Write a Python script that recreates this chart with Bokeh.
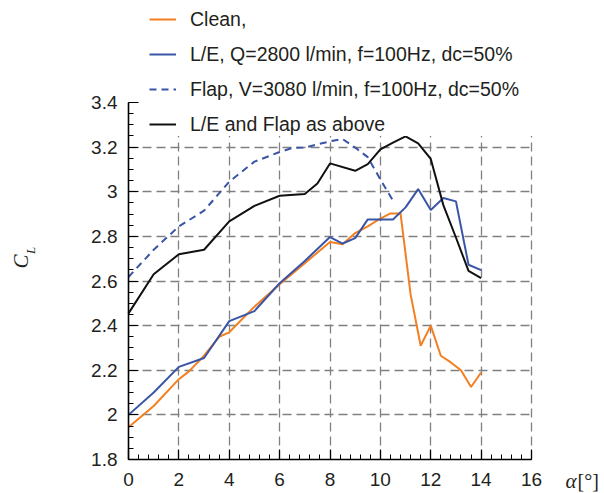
import math

from bokeh.embed import file_html
from bokeh.models import (FixedTicker, Grid, Label, Legend, LegendItem, LinearAxis,
                          Range1d)
from bokeh.plotting import figure
from bokeh.resources import INLINE

# Lift coefficient versus angle of attack for four configurations
alpha_clean = [0, 1, 2, 2.4, 3, 3.6, 4, 5, 6, 7, 8, 8.5, 9, 9.5, 10, 10.4, 10.8,
               11.2, 11.6, 12, 12.4, 12.8, 13.2, 13.6, 14]
cl_clean = [1.945, 2.04, 2.16, 2.195, 2.265, 2.35, 2.37, 2.485, 2.585, 2.68, 2.775,
            2.765, 2.815, 2.845, 2.88, 2.903, 2.903, 2.54, 2.31, 2.40, 2.265, 2.235,
            2.20, 2.125, 2.19]

alpha_le = [0, 1, 2, 3, 4, 5, 6, 7, 8, 8.5, 9, 9.5, 10, 10.5, 11, 11.5, 12, 12.5,
            13, 13.5, 14]
cl_le = [2.0, 2.10, 2.215, 2.255, 2.42, 2.465, 2.59, 2.69, 2.797, 2.768, 2.792,
         2.876, 2.876, 2.876, 2.93, 3.012, 2.918, 2.972, 2.957, 2.673, 2.649]

alpha_flap = [0, 1, 2, 3, 4, 5, 6, 6.5, 7, 8, 8.5, 9, 9.5, 10, 10.5]
cl_flap = [2.618, 2.74, 2.845, 2.915, 3.045, 3.135, 3.178, 3.196, 3.198, 3.226,
           3.236, 3.198, 3.155, 3.055, 2.96]

alpha_both = [0, 1, 2, 3, 4, 5, 6, 7, 7.5, 8, 9, 9.5, 10, 10.5, 11, 11.5, 12, 12.5,
              13, 13.5, 14]
cl_both = [2.455, 2.63, 2.72, 2.74, 2.867, 2.937, 2.982, 2.99, 3.037, 3.127, 3.094,
           3.124, 3.19, 3.22, 3.248, 3.217, 3.147, 2.94, 2.795, 2.645, 2.613]

series_labels = [
    "Clean,",
    "L/E, Q=2800 l/min, f=100Hz, dc=50%",
    "Flap, V=3080 l/min, f=100Hz, dc=50%",
    "L/E and Flap as above",
]

x_ticks = [0, 2, 4, 6, 8, 10, 12, 14, 16]
x_tick_labels = ["0", "2", "4", "6", "8", "10", "12", "14", "16"]
y_ticks = [1.8, 2.0, 2.2, 2.4, 2.6, 2.8, 3.0, 3.2, 3.4]
y_tick_labels = ["1.8", "2", "2.2", "2.4", "2.6", "2.8", "3", "3.2", "3.4"]
x_minor = [round(0.4 * i, 1) for i in range(41)]
y_minor = [round(1.8 + 0.05 * i, 2) for i in range(33)]

ORANGE = "#f47f20"
BLUE = "#3a55a6"
BLACK = "#111111"
TEXT = "#231f20"
GRID = "#808080"

W, H = 604, 493
# plot box in canvas pixels: alpha 0..16 -> x 128..531, CL 1.8..3.4 -> y 459..102
X0, X1, Y0, Y1 = 128, 531, 459, 102
kx = (X1 - X0) / (x_ticks[-1] - x_ticks[0])
ky = (Y0 - Y1) / (y_ticks[-1] - y_ticks[0])
x_range = Range1d(x_ticks[0] - X0 / kx, x_ticks[-1] + (W - X1) / kx)
y_range = Range1d(y_ticks[0] - (H - Y0) / ky, y_ticks[-1] + Y1 / ky)

p = figure(width=W, height=H, x_range=x_range, y_range=y_range,
           x_axis_type=None, y_axis_type=None, min_border=0,
           output_backend="svg", toolbar_location=None)
p.outline_line_color = None
p.background_fill_color = "white"
p.border_fill_color = "white"

# dashed grid at the interior major ticks, limited to the axes box
xgrid = Grid(dimension=0, ticker=FixedTicker(ticks=x_ticks[1:]),
             bounds=(x_ticks[0], x_ticks[-1]))
ygrid = Grid(dimension=1, ticker=FixedTicker(ticks=y_ticks[1:-1]),
             bounds=(y_ticks[0], y_ticks[-1]))
for g in (xgrid, ygrid):
    g.grid_line_color = GRID
    g.grid_line_dash = "9 5"
    g.grid_line_width = 1.3
if hasattr(xgrid, "cross_bounds"):
    xgrid.cross_bounds = (y_ticks[0], y_ticks[-1])
    ygrid.cross_bounds = (x_ticks[0], x_ticks[-1])
    p.add_layout(xgrid)
    p.add_layout(ygrid)
else:
    p.segment(x0=x_ticks[1:], y0=[y_ticks[0]] * 8, x1=x_ticks[1:],
              y1=[y_ticks[-1]] * 8, line_color=GRID, line_dash="9 5", line_width=1.3)
    p.segment(x0=[x_ticks[0]] * 7, y0=y_ticks[1:-1], x1=[x_ticks[-1]] * 7,
              y1=y_ticks[1:-1], line_color=GRID, line_dash="9 5", line_width=1.3)

# axes pinned at alpha=0 and CL=1.8, ticks pointing inward
xaxis = LinearAxis(fixed_location=y_ticks[0], bounds=(x_ticks[0], x_ticks[-1]))
yaxis = LinearAxis(fixed_location=x_ticks[0], bounds=(y_ticks[0], y_ticks[-1]))
for ax, ticks, minor, labels in (
    (xaxis, x_ticks, x_minor, x_tick_labels),
    (yaxis, y_ticks, y_minor, y_tick_labels),
):
    ax.ticker = FixedTicker(ticks=ticks, minor_ticks=minor)
    ax.major_label_overrides = {t: s for t, s in zip(ticks, labels)}
    ax.axis_line_color = "black"
    ax.axis_line_width = 1.6
    ax.major_tick_line_color = "black"
    ax.minor_tick_line_color = "black"
    ax.major_tick_line_width = 1.2
    ax.minor_tick_line_width = 1.0
    ax.major_tick_in = 10
    ax.major_tick_out = 0
    ax.minor_tick_in = 5
    ax.minor_tick_out = 0
    ax.major_label_text_font = "Liberation Sans"
    ax.major_label_text_font_size = "19px"
    ax.major_label_text_color = TEXT
xaxis.major_label_standoff = 13
yaxis.major_label_standoff = 11
p.add_layout(xaxis, "below")
p.add_layout(yaxis, "left")

r_clean = p.line(alpha_clean, cl_clean, line_color=ORANGE, line_width=2)
r_le = p.line(alpha_le, cl_le, line_color=BLUE, line_width=2)
r_flap = p.line(alpha_flap, cl_flap, line_color=BLUE, line_width=2, line_dash="7 5")
r_both = p.line(alpha_both, cl_both, line_color=BLACK, line_width=2)

legend = Legend(
    items=[LegendItem(label=s, renderers=[r])
           for s, r in zip(series_labels, [r_clean, r_le, r_flap, r_both])],
    location=(149, H - 136),
    label_text_font="Liberation Sans",
    label_text_font_size="19.5px",
    label_text_color=TEXT,
    glyph_width=27, glyph_height=24, label_height=24, label_width=344,
    label_standoff=14, spacing=11, padding=0, margin=0,
    background_fill_color="white", background_fill_alpha=1.0,
    border_line_color=None,
)
p.add_layout(legend)

# axis titles (screen pixels from the canvas' bottom-left corner)
p.add_layout(Label(x=20, y=H - 261, x_units="screen", y_units="screen", text="C",
                   angle=math.pi / 2, text_align="center", text_baseline="middle",
                   text_font="Liberation Serif", text_font_style="italic",
                   text_font_size="21px", text_color=TEXT))
p.add_layout(Label(x=30, y=H - 250, x_units="screen", y_units="screen", text="L",
                   angle=math.pi / 2, text_align="center", text_baseline="middle",
                   text_font="Liberation Serif", text_font_style="italic",
                   text_font_size="13px", text_color=TEXT))
p.add_layout(Label(x=565, y=H - 480, x_units="screen", y_units="screen", text="α",
                   text_align="left", text_baseline="middle",
                   text_font="Liberation Serif", text_font_style="italic",
                   text_font_size="21px", text_color=TEXT))
p.add_layout(Label(x=577, y=H - 480, x_units="screen", y_units="screen", text="[°]",
                   text_align="left", text_baseline="middle",
                   text_font="Liberation Serif", text_font_size="20px",
                   text_color=TEXT))

open("out.html", "w").write(file_html(p, INLINE))
